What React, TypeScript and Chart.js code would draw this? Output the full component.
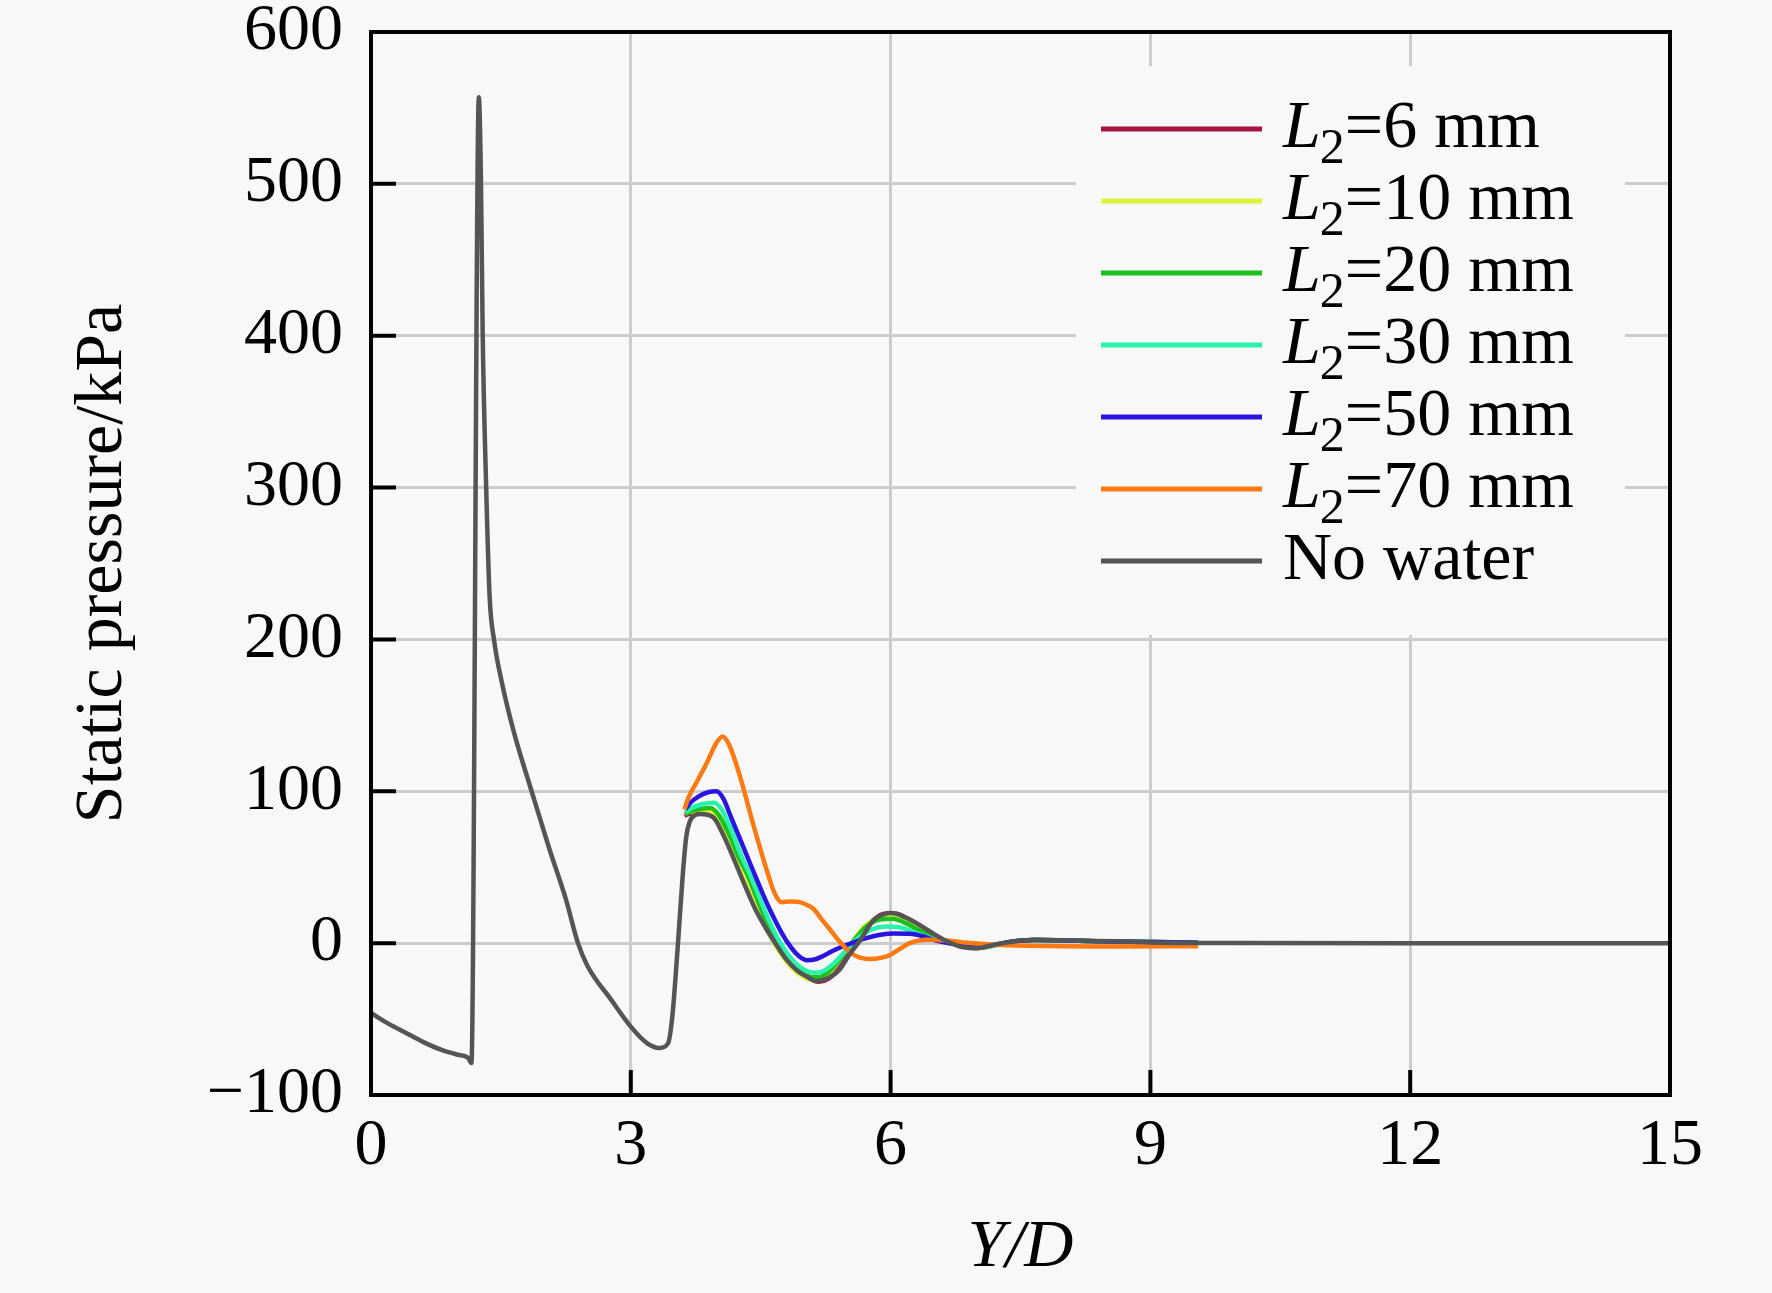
import React, { useEffect, useRef } from "react";
import { Chart, registerables } from "chart.js";

Chart.register(...registerables);

const FONT = '"Liberation Serif", "Times New Roman", serif';

const xTicks = [0, 3, 6, 9, 12, 15];
const yTicks = [-100, 0, 100, 200, 300, 400, 500, 600];

const seriesLabels = ["L2=6 mm", "L2=10 mm", "L2=20 mm", "L2=30 mm", "L2=50 mm", "L2=70 mm", "No water"];
const seriesColors = ["#a8123e", "#e0f23a", "#1ec01e", "#2af2ac", "#2a14e0", "#ff7a12", "#555555"];

// [Y/D, kPa]
const l2_6: [number, number][] = [
  [3.62, 84], [3.7, 85.5], [3.8, 86], [3.9, 85], [4.0, 80], [4.1, 69], [4.22, 53], [4.32, 40],
  [4.45, 23], [4.57, 9], [4.7, -3], [4.82, -12.5], [4.95, -19.5], [5.07, -23.5], [5.17, -25.5],
  [5.28, -23.5], [5.4, -17], [5.52, -7], [5.65, 3], [5.8, 15], [5.95, 19.5], [6.05, 19.5],
  [6.2, 16], [6.38, 9.5], [6.55, 3.5], [6.7, 0.2], [6.85, -2], [7.0, -3.2], [7.4, 1], [7.65, 2],
  [8.6, 1.1], [9.55, 0.3],
];
const l2_10: [number, number][] = [
  [3.62, 86], [3.7, 86.5], [3.8, 87.5], [3.9, 87], [4.0, 83], [4.12, 69], [4.23, 54], [4.32, 43],
  [4.46, 24], [4.58, 8], [4.71, -5], [4.84, -15], [4.96, -21], [5.08, -24], [5.19, -23.5],
  [5.3, -19], [5.43, -9], [5.56, 1], [5.7, 11], [5.86, 17], [6.0, 18], [6.15, 16], [6.33, 10],
  [6.5, 4], [6.66, 0.5], [6.85, -2], [7.0, -3], [7.4, 1], [7.65, 2], [8.6, 1.1], [9.55, 0.3],
];
const l2_20: [number, number][] = [
  [3.63, 85], [3.7, 87], [3.82, 88.5], [3.92, 89], [4.02, 84], [4.14, 71], [4.25, 56], [4.34, 46],
  [4.48, 26], [4.6, 10], [4.73, -4], [4.86, -14], [4.98, -20], [5.1, -22.5], [5.2, -22],
  [5.32, -17], [5.45, -8], [5.58, 2], [5.72, 11], [5.88, 15.5], [6.02, 16], [6.18, 13],
  [6.36, 7.5], [6.52, 3], [6.68, 0], [6.85, -2], [7.0, -3], [7.4, 1], [7.65, 2], [8.6, 1.1],
  [9.55, 0.3],
];
const l2_30: [number, number][] = [
  [3.63, 86], [3.7, 89], [3.82, 91.5], [3.96, 92.5], [4.05, 88], [4.15, 76], [4.28, 57],
  [4.37, 46], [4.5, 28], [4.62, 12], [4.75, -2], [4.88, -12], [5.0, -17.5], [5.12, -19.5],
  [5.22, -18.5], [5.35, -13], [5.48, -5], [5.62, 3], [5.78, 9], [5.95, 11], [6.1, 10.5],
  [6.28, 7], [6.45, 3.5], [6.65, 0.5], [6.85, -2], [7.0, -2.8], [7.4, 1], [7.65, 2], [8.6, 1.1],
  [9.55, 0.3],
];
const l2_50: [number, number][] = [
  [3.63, 88], [3.68, 92], [3.78, 96.5], [3.9, 99.5], [3.99, 100], [4.07, 95], [4.15, 84],
  [4.28, 66], [4.41, 48], [4.52, 33], [4.64, 18], [4.75, 6], [4.84, -2], [4.93, -8], [5.03, -11.2],
  [5.12, -10.8], [5.22, -8.5], [5.3, -6], [5.41, -3], [5.55, 0], [5.7, 3], [5.88, 5.5],
  [6.05, 6.4], [6.22, 6.2], [6.38, 4.4], [6.5, 2], [6.65, 0.3], [6.85, -1.5], [7.0, -2.5],
  [7.4, 1], [7.65, 2], [8.6, 1.1], [9.55, 0.3],
];
const l2_70: [number, number][] = [
  [3.62, 88], [3.66, 95], [3.76, 106], [3.88, 119], [3.98, 131], [4.06, 136], [4.14, 130],
  [4.26, 110], [4.41, 79], [4.57, 48], [4.66, 33], [4.74, 27], [4.85, 27.5], [4.95, 27],
  [5.04, 25], [5.11, 22.5], [5.2, 16], [5.3, 9], [5.42, 0.5], [5.57, -7.6], [5.76, -10.5],
  [5.9, -9.5], [6.0, -7.6], [6.1, -4], [6.22, 0], [6.42, 2.3], [6.65, 1.8], [6.88, 0.3],
  [7.2, -1], [7.57, -1.7], [8.57, -2.2], [9.55, -2],
];
const noWater: [number, number][] = [
  [0, -46], [0.2, -53], [0.4, -59], [0.6, -65], [0.8, -70], [1.0, -73.5], [1.12, -75.5],
  [1.16, -79], [1.245, 557], [1.27, 500], [1.29, 400], [1.33, 300], [1.37, 228], [1.42, 200],
  [1.51, 172], [1.65, 139], [1.855, 100], [2.06, 62], [2.25, 29], [2.39, 0], [2.5, -15],
  [2.77, -37], [3.0, -55], [3.19, -66], [3.33, -69], [3.43, -66], [3.48, -48], [3.54, -4],
  [3.6, 45], [3.64, 70], [3.68, 80], [3.75, 84.5], [3.8, 85], [3.95, 83], [4.07, 71],
  [4.2, 54], [4.34, 35], [4.45, 21], [4.57, 9], [4.68, -1], [4.8, -11], [4.92, -18],
  [5.03, -22], [5.15, -25], [5.28, -23], [5.41, -17.5], [5.52, -8], [5.65, 2], [5.8, 15],
  [5.92, 19], [6.01, 19.8], [6.13, 18], [6.26, 14.4], [6.45, 7.8], [6.65, 1.2], [6.8, -2.2],
  [7.0, -3.3], [7.2, -1], [7.42, 1.1], [7.65, 2.3], [8.2, 1.6], [8.6, 1.2], [9.0, 0.5],
  [10, 0.1], [12, 0], [15, 0],
];

const seriesData = [l2_6, l2_10, l2_20, l2_30, l2_50, l2_70, noWater];

// legend box, frame and inward ticks
const framePlugin = {
  id: "frame",
  beforeDatasetsDraw(chart: any) {
    const { ctx, chartArea: a } = chart;
    ctx.save();
    ctx.fillStyle = "#f8f8f8";
    ctx.fillRect(a.right - 594, a.top + 34, 549, 569);
    ctx.restore();
  },
  afterDraw(chart: any) {
    const { ctx, chartArea: a } = chart;
    const bx = a.right - 594;
    const by = a.top + 34;
    ctx.save();
    chart.data.datasets.forEach((ds: any, i: number) => {
      const y = by + 63 + i * 72;
      ctx.strokeStyle = ds.borderColor;
      ctx.lineWidth = 5;
      ctx.beginPath();
      ctx.moveTo(bx + 25, y);
      ctx.lineTo(bx + 186, y);
      ctx.stroke();

      let tx = bx + 207;
      const base = y + 18;
      ctx.fillStyle = "#000";
      ctx.textBaseline = "alphabetic";
      ctx.textAlign = "left";
      const label: string = ds.label;
      if (label.startsWith("L2")) {
        ctx.font = `italic 68px ${FONT}`;
        ctx.fillText("L", tx, base);
        tx += ctx.measureText("L").width - 1;
        ctx.font = `50px ${FONT}`;
        ctx.fillText("2", tx, base + 16);
        tx += ctx.measureText("2").width;
        ctx.font = `68px ${FONT}`;
        ctx.fillText(label.slice(2), tx, base);
      } else {
        ctx.font = `68px ${FONT}`;
        ctx.fillText(label, tx, base);
      }
    });

    ctx.strokeStyle = "#000";
    ctx.lineWidth = 4;
    ctx.strokeRect(a.left, a.top, a.right - a.left, a.bottom - a.top);

    const xs = chart.scales.x;
    const ys = chart.scales.y;
    ctx.beginPath();
    xs.ticks.forEach((t: any) => {
      const px = xs.getPixelForValue(t.value);
      ctx.moveTo(px, a.bottom);
      ctx.lineTo(px, a.bottom - 25);
    });
    ys.ticks.forEach((t: any) => {
      const py = ys.getPixelForValue(t.value);
      ctx.moveTo(a.left, py);
      ctx.lineTo(a.left + 25, py);
    });
    ctx.stroke();
    ctx.restore();
  },
};

const App = () => {
  const chartRef = useRef<HTMLCanvasElement | null>(null);
  const chartInstance = useRef<Chart | null>(null);

  useEffect(() => {
    document.body.style.margin = "0";
    document.body.style.background = "#f8f8f8";

    if (chartInstance.current) {
      chartInstance.current.destroy();
    }

    const datasets = seriesData.map((pts, i) => ({
      label: seriesLabels[i],
      data: pts.map(([x, y]) => ({ x, y })),
      borderColor: seriesColors[i],
      backgroundColor: seriesColors[i],
      borderWidth: 4.5,
      pointRadius: 0,
      cubicInterpolationMode: "monotone" as const,
      // No water drawn on top, 6 mm at the bottom
      order: seriesData.length - i,
    }));
    datasets[datasets.length - 1].order = 0;

    const ctx = chartRef.current!.getContext("2d")!;
    chartInstance.current = new Chart(ctx, {
      type: "line",
      data: { datasets },
      plugins: [framePlugin],
      options: {
        animation: false,
        responsive: true,
        maintainAspectRatio: false,
        devicePixelRatio: 1,
        layout: { padding: { left: 0, top: 32, right: 102, bottom: 0 } },
        plugins: {
          legend: { display: false },
          tooltip: { enabled: false },
        },
        scales: {
          x: {
            type: "linear",
            min: 0,
            max: 15,
            afterBuildTicks: (s: any) => {
              s.ticks = xTicks.map((v) => ({ value: v }));
            },
            afterFit: (s: any) => {
              s.height = 198;
              s.paddingLeft = 0;
              s.paddingRight = 0;
            },
            grid: { color: "#cccccc", lineWidth: 3, drawTicks: false },
            border: { display: false },
            ticks: {
              color: "#000",
              padding: 19,
              maxRotation: 0,
              font: { family: FONT, size: 66, lineHeight: 1 },
            },
            title: {
              display: true,
              text: "Y/D",
              color: "#000",
              padding: { top: 0, bottom: 11 },
              font: { family: FONT, size: 68, style: "italic", lineHeight: 1 },
            },
          },
          y: {
            type: "linear",
            min: -100,
            max: 600,
            afterBuildTicks: (s: any) => {
              s.ticks = yTicks.map((v) => ({ value: v }));
            },
            afterFit: (s: any) => {
              s.width = 371;
              s.paddingTop = 0;
              s.paddingBottom = 0;
            },
            grid: { color: "#cccccc", lineWidth: 3, drawTicks: false },
            border: { display: false },
            ticks: {
              color: "#000",
              padding: 28,
              font: { family: FONT, size: 66, lineHeight: 1 },
              callback: (v: any) => String(v).replace("-", "\u2212"),
            },
            title: {
              display: true,
              text: "Static pressure/kPa",
              color: "#000",
              padding: { top: 69, bottom: 0 },
              font: { family: FONT, size: 68, lineHeight: 1 },
            },
          },
        },
      },
    });

    return () => {
      if (chartInstance.current) {
        chartInstance.current.destroy();
        chartInstance.current = null;
      }
    };
  }, []);

  return (
    <div style={{ width: 1772, height: 1293, position: "relative" }}>
      <canvas ref={chartRef} />
    </div>
  );
};

export default App;
